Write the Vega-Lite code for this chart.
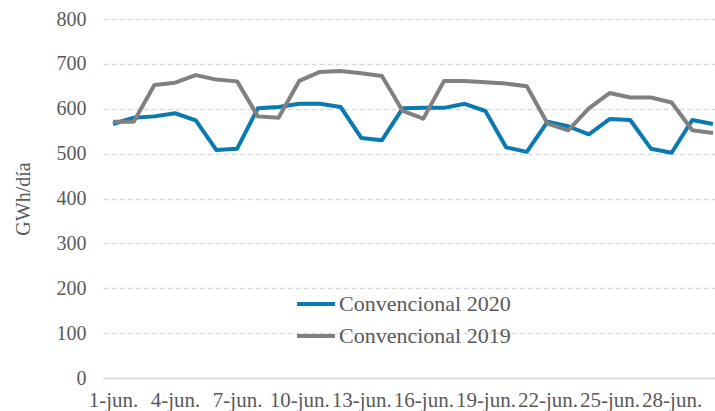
{
  "$schema": "https://vega.github.io/schema/vega-lite/v6.json",
  "width": 612,
  "height": 359,
  "autosize": {"type": "none"},
  "padding": {"left": 103, "top": 19, "right": 0, "bottom": 33},
  "background": "white",
  "config": {"view": {"stroke": null}, "font": "Liberation Serif"},
  "data": {"values": [
    {"d": 1, "s": "Convencional 2020", "v": 566},
    {"d": 2, "s": "Convencional 2020", "v": 580},
    {"d": 3, "s": "Convencional 2020", "v": 583},
    {"d": 4, "s": "Convencional 2020", "v": 590},
    {"d": 5, "s": "Convencional 2020", "v": 574},
    {"d": 6, "s": "Convencional 2020", "v": 508},
    {"d": 7, "s": "Convencional 2020", "v": 511},
    {"d": 8, "s": "Convencional 2020", "v": 601},
    {"d": 9, "s": "Convencional 2020", "v": 604},
    {"d": 10, "s": "Convencional 2020", "v": 611},
    {"d": 11, "s": "Convencional 2020", "v": 611},
    {"d": 12, "s": "Convencional 2020", "v": 604},
    {"d": 13, "s": "Convencional 2020", "v": 535},
    {"d": 14, "s": "Convencional 2020", "v": 530},
    {"d": 15, "s": "Convencional 2020", "v": 601},
    {"d": 16, "s": "Convencional 2020", "v": 602},
    {"d": 17, "s": "Convencional 2020", "v": 602},
    {"d": 18, "s": "Convencional 2020", "v": 611},
    {"d": 19, "s": "Convencional 2020", "v": 595},
    {"d": 20, "s": "Convencional 2020", "v": 514},
    {"d": 21, "s": "Convencional 2020", "v": 504},
    {"d": 22, "s": "Convencional 2020", "v": 571},
    {"d": 23, "s": "Convencional 2020", "v": 561},
    {"d": 24, "s": "Convencional 2020", "v": 543},
    {"d": 25, "s": "Convencional 2020", "v": 577},
    {"d": 26, "s": "Convencional 2020", "v": 575},
    {"d": 27, "s": "Convencional 2020", "v": 511},
    {"d": 28, "s": "Convencional 2020", "v": 502},
    {"d": 29, "s": "Convencional 2020", "v": 575},
    {"d": 30, "s": "Convencional 2020", "v": 566},
    {"d": 1, "s": "Convencional 2019", "v": 571},
    {"d": 2, "s": "Convencional 2019", "v": 571},
    {"d": 3, "s": "Convencional 2019", "v": 653},
    {"d": 4, "s": "Convencional 2019", "v": 658},
    {"d": 5, "s": "Convencional 2019", "v": 675},
    {"d": 6, "s": "Convencional 2019", "v": 665},
    {"d": 7, "s": "Convencional 2019", "v": 661},
    {"d": 8, "s": "Convencional 2019", "v": 583},
    {"d": 9, "s": "Convencional 2019", "v": 580},
    {"d": 10, "s": "Convencional 2019", "v": 662},
    {"d": 11, "s": "Convencional 2019", "v": 682},
    {"d": 12, "s": "Convencional 2019", "v": 684},
    {"d": 13, "s": "Convencional 2019", "v": 679},
    {"d": 14, "s": "Convencional 2019", "v": 673},
    {"d": 15, "s": "Convencional 2019", "v": 595},
    {"d": 16, "s": "Convencional 2019", "v": 578},
    {"d": 17, "s": "Convencional 2019", "v": 662},
    {"d": 18, "s": "Convencional 2019", "v": 662},
    {"d": 19, "s": "Convencional 2019", "v": 659},
    {"d": 20, "s": "Convencional 2019", "v": 656},
    {"d": 21, "s": "Convencional 2019", "v": 650},
    {"d": 22, "s": "Convencional 2019", "v": 567},
    {"d": 23, "s": "Convencional 2019", "v": 552},
    {"d": 24, "s": "Convencional 2019", "v": 601},
    {"d": 25, "s": "Convencional 2019", "v": 635},
    {"d": 26, "s": "Convencional 2019", "v": 625},
    {"d": 27, "s": "Convencional 2019", "v": 625},
    {"d": 28, "s": "Convencional 2019", "v": 614},
    {"d": 29, "s": "Convencional 2019", "v": 552},
    {"d": 30, "s": "Convencional 2019", "v": 546}
  ]},
  "mark": {"type": "line", "strokeWidth": 4, "strokeJoin": "round"},
  "encoding": {
    "x": {
      "field": "d",
      "type": "quantitative",
      "scale": {"domain": [0.5167, 30.097], "nice": false, "zero": false},
      "axis": {
        "values": [1, 4, 7, 10, 13, 16, 19, 22, 25, 28],
        "labelExpr": "datum.value + '-jun.'",
        "title": null,
        "grid": false,
        "ticks": false,
        "domainColor": "#d9d9d9",
        "domainWidth": 1.3,
        "labelFont": "Liberation Serif",
        "labelFontSize": 21,
        "labelColor": "#595959",
        "labelPadding": 11,
        "labelFlush": false,
        "labelOverlap": false
      }
    },
    "y": {
      "field": "v",
      "type": "quantitative",
      "scale": {"domain": [0, 800], "nice": false},
      "axis": {
        "values": [0, 100, 200, 300, 400, 500, 600, 700, 800],
        "title": "GWh/día",
        "titleFont": "Liberation Serif",
        "titleFontSize": 20,
        "titleFontWeight": "normal",
        "titleColor": "#595959",
        "titlePadding": 23,
        "domain": false,
        "ticks": false,
        "labelPadding": 17,
        "labelFont": "Liberation Serif",
        "labelFontSize": 20,
        "labelColor": "#595959",
        "gridColor": "#d9d9d9",
        "gridDash": [5, 3],
        "gridWidth": 1.3
      }
    },
    "color": {
      "field": "s",
      "type": "nominal",
      "scale": {"domain": ["Convencional 2020", "Convencional 2019"], "range": ["#0A7AB0", "#808080"]},
      "legend": {
        "title": null,
        "orient": "none",
        "legendX": 192,
        "legendY": 264,
        "symbolType": "stroke",
        "symbolSize": 1444,
        "symbolStrokeWidth": 4,
        "labelFont": "Liberation Serif",
        "labelFontSize": 22,
        "labelColor": "#595959",
        "labelOffset": 2,
        "labelLimit": 0,
        "rowPadding": -13
      }
    }
  }
}
